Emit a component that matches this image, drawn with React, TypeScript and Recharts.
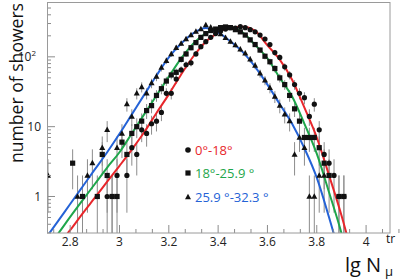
import React from "react";
import { ComposedChart, Line, Scatter, XAxis, YAxis, ErrorBar } from "recharts";

// lg N bin centre, number of showers
const circlePoints: [number, number][] = [
  [2.95, 1], [2.97, 1], [2.99, 2], [3.03, 2], [3.05, 5], [3.07, 4], [3.09, 9],
  [3.11, 8], [3.13, 11], [3.15, 12], [3.17, 16], [3.19, 30], [3.21, 30], [3.23, 48],
  [3.25, 65], [3.27, 77], [3.29, 82], [3.31, 110], [3.33, 140], [3.35, 165], [3.37, 190],
  [3.39, 215], [3.41, 235], [3.43, 250], [3.45, 262], [3.47, 258], [3.49, 270], [3.51, 262],
  [3.53, 245], [3.55, 228], [3.57, 205], [3.59, 180], [3.61, 150], [3.63, 115], [3.65, 98],
  [3.67, 72], [3.69, 55], [3.71, 40], [3.73, 30], [3.75, 26], [3.77, 14], [3.79, 21],
  [3.81, 9], [3.83, 4], [3.85, 3], [3.87, 2], [3.89, 1], [3.91, 1],
];

const squarePoints: [number, number][] = [
  [2.81, 3], [2.85, 1], [2.91, 1], [2.93, 4], [2.95, 2], [2.97, 1], [2.99, 1], [3.01, 6],
  [3.03, 4], [3.05, 8], [3.07, 10], [3.09, 12], [3.11, 17], [3.13, 20], [3.15, 28],
  [3.17, 35], [3.19, 45], [3.21, 55], [3.23, 60], [3.25, 92], [3.27, 110], [3.29, 135],
  [3.31, 160], [3.33, 190], [3.35, 215], [3.37, 238], [3.39, 250], [3.41, 262], [3.43, 268],
  [3.45, 262], [3.47, 245], [3.49, 228], [3.51, 205], [3.53, 175], [3.55, 150], [3.57, 125],
  [3.59, 102], [3.61, 85], [3.63, 68], [3.65, 50], [3.67, 40], [3.69, 28], [3.71, 18],
  [3.73, 12], [3.75, 7], [3.77, 7], [3.79, 7], [3.81, 5], [3.83, 3], [3.85, 2],
  [3.89, 1], [3.91, 1],
];

const trianglePoints: [number, number][] = [
  [2.71, 2], [2.83, 1], [2.87, 2], [2.89, 3], [2.93, 5], [2.95, 9], [2.99, 5], [3.01, 8],
  [3.03, 21], [3.05, 14], [3.07, 30], [3.09, 37], [3.11, 30], [3.13, 42], [3.15, 52],
  [3.17, 70], [3.19, 88], [3.21, 110], [3.23, 135], [3.25, 155], [3.27, 180], [3.29, 205],
  [3.31, 230], [3.33, 250], [3.35, 285], [3.37, 265], [3.39, 240], [3.41, 212], [3.43, 188],
  [3.45, 165], [3.47, 148], [3.49, 128], [3.51, 112], [3.53, 92], [3.55, 75], [3.57, 58],
  [3.59, 46], [3.61, 36], [3.63, 27], [3.65, 20], [3.67, 15], [3.69, 12], [3.71, 4],
  [3.73, 7], [3.75, 5], [3.77, 1], [3.79, 1], [3.81, 2], [3.83, 2],
];

// fitted curves
const redFit: [number, number][] = [
  [2.7, 0.12], [2.75, 0.2], [2.8, 0.33], [2.85, 0.57], [2.9, 0.96], [2.95, 1.63],
  [3.0, 2.75], [3.05, 4.7], [3.1, 8.3], [3.15, 15.7], [3.2, 29], [3.25, 56], [3.3, 102],
  [3.35, 165], [3.4, 220], [3.45, 265], [3.5, 270], [3.55, 235], [3.6, 146], [3.65, 91],
  [3.7, 47], [3.75, 18.7], [3.8, 7], [3.85, 2], [3.9, 0.54], [3.95, 0.12],
];

const greenFit: [number, number][] = [
  [2.7, 0.17], [2.75, 0.29], [2.8, 0.51], [2.85, 0.88], [2.9, 1.51], [2.95, 2.6],
  [3.0, 4.3], [3.05, 8], [3.1, 15], [3.15, 28], [3.2, 52], [3.25, 95], [3.3, 156],
  [3.35, 217], [3.4, 255], [3.45, 268], [3.5, 222], [3.55, 148], [3.6, 95], [3.65, 50],
  [3.7, 27], [3.75, 11], [3.8, 4.1], [3.85, 1.14], [3.9, 0.3], [3.95, 0.06],
];

const blueFit: [number, number][] = [
  [2.7, 0.25], [2.75, 0.44], [2.8, 0.78], [2.85, 1.38], [2.9, 2.44], [2.95, 4.3],
  [3.0, 7.9], [3.05, 15], [3.1, 28.5], [3.15, 54], [3.2, 98], [3.25, 155], [3.3, 219],
  [3.35, 259], [3.4, 224], [3.45, 166], [3.5, 117], [3.55, 72], [3.6, 40], [3.65, 21],
  [3.7, 11], [3.75, 4.9], [3.8, 1.86], [3.85, 0.5], [3.9, 0.12],
];

const legendLabels = ["0°-18°", "18°-25.9 °", "25.9 °-32.3 °"];

const xMajor = [2.8, 3, 3.2, 3.4, 3.6, 3.8, 4];
const yMajor = [1, 10, 100];
const Y_MIN = 0.3;
const Y_MAX = 610;

const RED = "#e8262b";
const GREEN = "#1ea64b";
const BLUE = "#2462d6";
const GREY = "#8c8c8c";
const FONT = "'Open Sans', sans-serif";

const xTicks: number[] = [];
for (let i = 0; i <= 21; i++) xTicks.push(+(2.7333333 + (i * 0.2) / 3).toFixed(4));
const yTicks: number[] = [];
[0.1, 1, 10, 100].forEach((d) => {
  for (let m = 1; m <= 9; m++) {
    const v = +(m * d).toPrecision(2);
    if (v >= Y_MIN && v <= Y_MAX) yTicks.push(v);
  }
});

// poisson errors, lower end stopped at the bottom of the frame
const withErrors = (pts: [number, number][]) =>
  pts.map(([x, n]) => ({
    x,
    y: n,
    err: [Math.min(Math.sqrt(n), n - Y_MIN), Math.sqrt(n)],
  }));

const XTick = (props: any) => {
  const { x, y, payload } = props;
  const v = payload.value;
  const major = xMajor.some((m) => Math.abs(m - v) < 1e-3);
  return (
    <g>
      <line x1={x} x2={x} y1={y} y2={y - (major ? 8 : 4)} stroke={GREY} />
      {major && (
        <text x={x} y={y + 13} textAnchor="middle" fontSize={12} fontFamily={FONT} fill="#222">
          {String(Math.round(v * 10) / 10)}
        </text>
      )}
    </g>
  );
};

const YTick = (props: any) => {
  const { x, y, payload } = props;
  const v = payload.value;
  const major = yMajor.includes(v);
  return (
    <g>
      <line x1={x} x2={x + (major ? 8 : 4)} y1={y} y2={y} stroke={GREY} />
      {major && v < 100 && (
        <text x={x - 6} y={y + 4.3} textAnchor="end" fontSize={12} fontFamily={FONT} fill="#222">
          {String(v)}
        </text>
      )}
      {v === 100 && (
        <text x={x - 11} y={y + 4.3} textAnchor="end" fontSize={12} fontFamily={FONT} fill="#222">
          10
          <tspan fontSize={8} dy={-5}>2</tspan>
        </text>
      )}
    </g>
  );
};

const circleShape = (p: any) => <circle cx={p.cx} cy={p.cy} r={2.6} fill="#111" />;
const squareShape = (p: any) => (
  <rect x={p.cx - 2.6} y={p.cy - 2.6} width={5.2} height={5.2} fill="#111" />
);
const triangleShape = (p: any) => (
  <polygon
    points={`${p.cx},${p.cy - 3.3} ${p.cx - 3},${p.cy + 2.2} ${p.cx + 3},${p.cy + 2.2}`}
    fill="#111"
  />
);

const toRows = (pts: [number, number][]) => pts.map(([x, y]) => ({ x, y }));

export default function App() {
  return (
    <div style={{ position: "absolute", left: 0, top: 0, width: 407, height: 280, background: "#fff" }}>
      <ComposedChart width={407} height={280} margin={{ top: 2, right: 17, bottom: 0, left: 0 }}>
        <XAxis
          type="number"
          dataKey="x"
          domain={[2.706, 4.097]}
          allowDataOverflow
          ticks={xTicks}
          interval={0}
          tick={<XTick />}
          tickLine={false}
          tickSize={0}
          tickMargin={0}
          axisLine={false}
          height={47}
        />
        <YAxis
          type="number"
          dataKey="y"
          scale="log"
          domain={[Y_MIN, Y_MAX]}
          allowDataOverflow
          ticks={yTicks}
          interval={0}
          tick={<YTick />}
          tickLine={false}
          tickSize={0}
          tickMargin={0}
          axisLine={false}
          width={47}
        />
        <Scatter data={withErrors(circlePoints)} shape={circleShape} isAnimationActive={false}>
          <ErrorBar dataKey="err" direction="y" width={0} stroke={GREY} strokeWidth={1} isAnimationActive={false} />
        </Scatter>
        <Scatter data={withErrors(squarePoints)} shape={squareShape} isAnimationActive={false}>
          <ErrorBar dataKey="err" direction="y" width={0} stroke={GREY} strokeWidth={1} isAnimationActive={false} />
        </Scatter>
        <Scatter data={withErrors(trianglePoints)} shape={triangleShape} isAnimationActive={false}>
          <ErrorBar dataKey="err" direction="y" width={0} stroke={GREY} strokeWidth={1} isAnimationActive={false} />
        </Scatter>
        <Line data={toRows(redFit)} dataKey="y" type="monotone" stroke={RED} strokeWidth={2} dot={false} isAnimationActive={false} />
        <Line data={toRows(greenFit)} dataKey="y" type="monotone" stroke={GREEN} strokeWidth={2} dot={false} isAnimationActive={false} />
        <Line data={toRows(blueFit)} dataKey="y" type="monotone" stroke={BLUE} strokeWidth={2} dot={false} isAnimationActive={false} />
      </ComposedChart>
      <svg
        width={407}
        height={280}
        style={{ position: "absolute", left: 0, top: 0, pointerEvents: "none" }}
      >
        <rect x={47.5} y={2.5} width={342.5} height={230.5} fill="none" stroke="#9a9a9a" />
        <text
          x={23}
          y={83}
          transform="rotate(-90 23 83)"
          textAnchor="middle"
          fontSize={18}
          fontFamily={FONT}
          textLength={160}
          lengthAdjust="spacingAndGlyphs"
          fill="#111"
        >
          number of showers
        </text>
        <text x={345} y={272} fontSize={20} fontFamily={FONT} fill="#111">
          lg N
        </text>
        <text x={385} y={276} fontSize={13} fontFamily={FONT} fill="#111">
          μ
        </text>
        <text x={386} y={243} fontSize={12} fontFamily={FONT} fill="#111">
          tr
        </text>
        <circle cx={188} cy={150} r={2.8} fill="#111" />
        <text x={195} y={155} fontSize={13} fontFamily={FONT} fill={RED}>
          {legendLabels[0]}
        </text>
        <rect x={185.4} y={170.4} width={5.2} height={5.2} fill="#111" />
        <text x={195} y={178} fontSize={13} fontFamily={FONT} fill={GREEN}>
          {legendLabels[1]}
        </text>
        <polygon points="188,193.7 185,199.2 191,199.2" fill="#111" />
        <text x={195} y={202} fontSize={13} fontFamily={FONT} fill={BLUE}>
          {legendLabels[2]}
        </text>
      </svg>
    </div>
  );
}
